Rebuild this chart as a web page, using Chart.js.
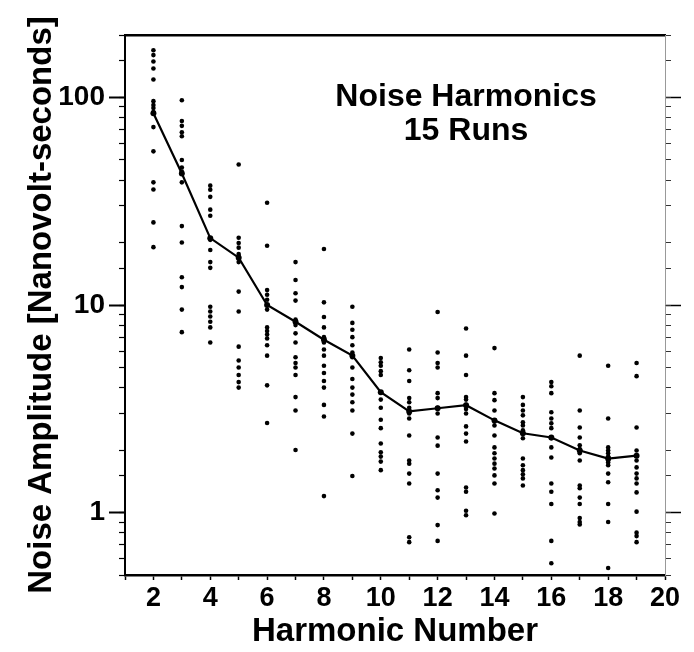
<!DOCTYPE html>
<html>
<head>
<meta charset="utf-8">
<script src="https://cdn.jsdelivr.net/npm/chart.js@4.4.1/dist/chart.umd.min.js"></script>
<style>
  body { margin: 0; background: #fff; }
  #wrap { width: 694px; height: 652px; }
</style>
</head>
<body>
<div id="wrap"><canvas id="noise"></canvas></div>
<script>
// harmonic numbers and the 15 runs read at each one (nanovolt-seconds)
const harmonics = [2, 3, 4, 5, 6, 7, 8, 9, 10, 11, 12, 13, 14, 15, 16, 17, 18, 19];
const h2 = [169, 160, 149, 138, 122, 96, 92, 89, 85, 72, 55, 39, 36, 25, 19];
const h3 = [97, 77, 73, 68, 65, 50, 46, 44, 39, 24, 20, 13.6, 12.2, 9.5, 7.4];
const h4 = [37.6, 35.9, 33.2, 28.8, 26.9, 20.6, 18.4, 16.1, 15.1, 9.8, 9.3, 8.8, 8.3, 7.8, 6.6];
const h5 = [47.5, 21.1, 19.9, 18.9, 17.6, 17.2, 16.1, 11.6, 9.3, 6.3, 5.4, 5.0, 4.6, 4.25, 4.0];
const h6 = [31.1, 19.3, 11.8, 11.2, 10.6, 10.0, 9.5, 7.8, 7.5, 7.2, 6.9, 6.4, 5.7, 4.1, 2.7];
const h7 = [16.1, 13.2, 11.4, 10.5, 8.5, 8.0, 7.3, 6.6, 5.6, 5.25, 5.0, 4.6, 3.6, 3.1, 2.0];
const h8 = [18.6, 10.3, 8.75, 7.8, 7.0, 6.6, 6.1, 5.7, 5.1, 4.7, 4.3, 4.0, 3.3, 2.9, 1.2];
const h9 = [9.8, 8.2, 7.6, 7.0, 6.4, 5.9, 5.6, 5.0, 4.4, 4.0, 3.7, 3.4, 3.1, 2.4, 1.5];
const h10 = [5.55, 5.3, 5.1, 4.8, 4.6, 3.8, 3.5, 3.2, 2.8, 2.55, 2.15, 1.95, 1.86, 1.76, 1.6];
const h11 = [6.1, 4.85, 4.3, 3.56, 3.4, 3.2, 3.0, 2.84, 2.35, 1.78, 1.72, 1.54, 1.38, 0.76, 0.72];
const h12 = [9.25, 5.9, 5.25, 5.0, 3.76, 3.56, 3.2, 3.0, 2.3, 2.1, 1.54, 1.28, 1.18, 0.87, 0.73];
const h13 = [7.7, 5.7, 4.6, 3.6, 3.5, 3.3, 3.15, 3.0, 2.6, 2.4, 2.2, 1.32, 1.26, 1.02, 0.97];
const h14 = [6.2, 3.76, 3.48, 3.1, 2.78, 2.63, 2.35, 2.06, 1.93, 1.82, 1.72, 1.63, 1.51, 1.38, 0.99];
const h15 = [3.6, 3.3, 3.1, 2.94, 2.72, 2.63, 2.49, 2.41, 2.28, 1.82, 1.69, 1.6, 1.53, 1.46, 1.35];
const h16 = [4.25, 4.06, 3.76, 3.04, 2.84, 2.69, 2.55, 2.28, 2.06, 1.84, 1.38, 1.26, 1.1, 0.73, 0.57];
const h17 = [5.7, 3.1, 2.57, 2.3, 2.11, 2.02, 1.93, 1.78, 1.35, 1.31, 1.18, 1.1, 0.94, 0.9, 0.875];
const h18 = [5.1, 2.84, 2.06, 1.99, 1.93, 1.86, 1.82, 1.78, 1.74, 1.69, 1.54, 1.4, 1.1, 0.9, 0.54];
const h19 = [5.25, 4.54, 2.57, 1.99, 1.88, 1.78, 1.65, 1.54, 1.46, 1.38, 1.25, 1.01, 0.8, 0.77, 0.72];
const runs = [h2, h3, h4, h5, h6, h7, h8, h9, h10, h11, h12, h13, h14, h15, h16, h17, h18, h19];
// average curve drawn through the runs
const meanAmp = [84, 43, 21, 16.9, 10, 8.3, 6.8, 5.7, 3.8, 3.07, 3.18, 3.29, 2.78, 2.41, 2.3, 1.99, 1.82, 1.88];

const xTicks = [2, 4, 6, 8, 10, 12, 14, 16, 18, 20];
const yLabels = [1, 10, 100];

const FONT = '"Liberation Sans", Arial, Helvetica, sans-serif';

let runPoints = [];
for (let i = 0; i < harmonics.length; i++) {
  for (let j = 0; j < runs[i].length; j++) {
    runPoints.push({x: harmonics[i], y: runs[i][j]});
  }
}
const meanPoints = harmonics.map((h, i) => ({x: h, y: meanAmp[i]}));

// chart title written inside the plot
const innerTitle = {
  id: 'innerTitle',
  afterDraw(chart) {
    const c = chart.ctx;
    const xs = chart.scales.x, ys = chart.scales.y;
    c.save();
    c.fillStyle = '#000';
    c.font = 'bold 32px ' + FONT;
    c.textAlign = 'center';
    c.textBaseline = 'middle';
    c.fillText('Noise Harmonics', xs.getPixelForValue(13), ys.getPixelForValue(100));
    c.fillText('15 Runs', xs.getPixelForValue(13), ys.getPixelForValue(69));
    c.restore();
  }
};

function majorOnly(scale) {
  scale.ticks = yLabels.map(v => ({value: v}));
}

const ctx = document.getElementById('noise').getContext('2d');
new Chart(ctx, {
  type: 'scatter',
  data: {
    datasets: [
      {
        label: 'mean',
        data: meanPoints,
        showLine: true,
        borderColor: '#000',
        backgroundColor: '#000',
        borderWidth: 2.2,
        pointRadius: 3,
        pointBorderWidth: 0,
        tension: 0
      },
      {
        label: 'runs',
        data: runPoints,
        borderColor: '#000',
        backgroundColor: '#000',
        pointRadius: 2.3,
        pointBorderWidth: 0
      }
    ]
  },
  options: {
    responsive: true,
    maintainAspectRatio: false,
    animation: false,
    layout: { padding: 0 },
    plugins: {
      legend: { display: false },
      tooltip: { enabled: false }
    },
    scales: {
      x: {
        type: 'linear',
        position: 'bottom',
        min: 1,
        max: 20,
        afterBuildTicks: s => { s.ticks = harmonics.concat([1, 20]).sort((a, b) => a - b).map(v => ({value: v})); },
        afterFit: s => { s.height = 77; },
        grid: { drawOnChartArea: false, color: '#000', tickLength: 5, tickWidth: 1.5 },
        border: { color: '#000', width: 2.5 },
        ticks: {
          color: '#000',
          font: { family: FONT, size: 27, weight: 'bold' },
          padding: 2,
          autoSkip: false,
          maxRotation: 0,
          callback: v => xTicks.includes(v) ? String(v) : ''
        },
        title: {
          display: true,
          text: 'Harmonic Number',
          color: '#000',
          font: { family: FONT, size: 33, weight: 'bold' },
          padding: { top: 0, bottom: 0 }
        }
      },
      xTop: {
        type: 'linear',
        position: 'top',
        min: 1,
        max: 20,
        afterFit: s => { s.height = 35; },
        grid: { display: false, drawTicks: false },
        border: { color: '#000', width: 2.5 },
        ticks: { display: false }
      },
      y: {
        type: 'logarithmic',
        position: 'left',
        weight: 1,
        min: 0.5,
        max: 200,
        afterBuildTicks: majorOnly,
        afterFit: s => { s.width = 125; },
        grid: { drawOnChartArea: false, color: '#000', tickLength: 16, tickWidth: 2 },
        border: { display: false },
        ticks: {
          color: '#000',
          font: { family: FONT, size: 28, weight: 'bold' },
          padding: 4,
          callback: v => String(v)
        },
        title: {
          display: true,
          text: 'Noise Amplitude [Nanovolt-seconds]',
          color: '#000',
          font: { family: FONT, size: 33, weight: 'bold' },
          padding: { top: 22, bottom: 0 }
        }
      },
      yMinor: {
        type: 'logarithmic',
        position: 'left',
        weight: 0,
        min: 0.5,
        max: 200,
        afterFit: s => { s.width = 0; },
        grid: { drawOnChartArea: false, color: '#000', tickLength: 6, tickWidth: 1.2 },
        border: { color: '#000', width: 2 },
        ticks: { display: false, autoSkip: false }
      },
      yRight: {
        type: 'logarithmic',
        position: 'right',
        weight: 1,
        min: 0.5,
        max: 200,
        afterBuildTicks: majorOnly,
        afterFit: s => { s.width = 29; },
        grid: { drawOnChartArea: false, color: '#000', tickLength: 16, tickWidth: 1.5 },
        border: { display: false },
        ticks: { display: false }
      },
      yRightMinor: {
        type: 'logarithmic',
        position: 'right',
        weight: 0,
        min: 0.5,
        max: 200,
        afterFit: s => { s.width = 0; },
        grid: { drawOnChartArea: false, color: '#333', tickLength: 6, tickWidth: 1 },
        border: { color: '#999', width: 1, dash: [1, 3] },
        ticks: { display: false, autoSkip: false }
      }
    }
  },
  plugins: [innerTitle]
});
</script>
</body>
</html>
